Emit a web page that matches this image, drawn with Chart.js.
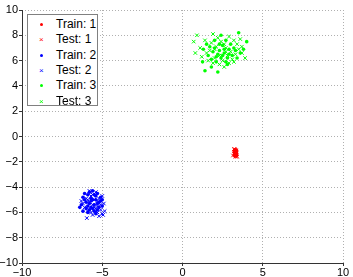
<!DOCTYPE html>
<html><head><meta charset="utf-8">
<script src="https://cdn.jsdelivr.net/npm/chart.js@4"></script>
<style>
html,body{margin:0;padding:0;background:#fff;}
#wrap{position:relative;width:353px;height:277px;}
#legend{position:absolute;left:27px;top:14px;width:71px;height:92px;border:1px solid #808080;background:#fff;font:12px "Liberation Sans",Arial,sans-serif;color:#000;box-sizing:border-box;}
.row{position:absolute;left:0;height:15px;width:70px;}
.lbl{position:absolute;left:28px;top:0;line-height:15px;white-space:nowrap;}
.dot{position:absolute;left:12px;top:6px;width:3px;height:3px;border-radius:2px;}
.crs{position:absolute;left:11px;top:0;line-height:15px;font-size:8px;}
</style></head>
<body><div id="wrap"><canvas id="c" width="353" height="277"></canvas><div id="legend"></div></div>
<script>
const legendLabels = ["Train: 1","Test: 1","Train: 2","Test: 2","Train: 3","Test: 3"];
const colors = ["#ff0000","#0000ff","#00ff00"];
const xTicks = [-10,-5,0,5,10];
const yTicks = [-10,-8,-6,-4,-2,0,2,4,6,8,10];

const train1 = [[3.25,-1.1],[3.3,-1.2],[3.35,-1.3],[3.28,-1.4],[3.32,-1.5],[3.38,-1.15],[3.22,-1.25],[3.3,-1.35],[3.36,-1.45],[3.26,-1.55],[3.34,-1.05],[3.24,-1.45],[3.31,-1.28],[3.37,-1.38],[3.29,-1.18]];
const test1 = [[3.2,-1.0],[3.4,-1.6],[3.15,-1.5],[3.33,-1.1],[3.27,-1.3],[3.38,-1.5],[3.22,-1.35],[3.35,-1.2],[3.3,-1.6],[3.25,-1.0]];
const train2 = [[-5.6,-4.3],[-5.9,-4.6],[-5.3,-4.5],[-6.1,-5.0],[-5.7,-4.9],[-5.4,-5.0],[-5.1,-4.8],[-6.3,-5.4],[-5.8,-5.3],[-5.5,-5.4],[-5.2,-5.2],[-6.0,-5.7],[-5.6,-5.7],[-5.3,-5.8],[-5.9,-6.0],[-5.0,-5.5],[-6.2,-4.8],[-5.7,-5.1],[-5.4,-4.7],[-5.8,-4.4],[-5.5,-5.9],[-6.0,-5.2],[-5.2,-5.6],[-5.6,-5.0],[-5.3,-5.3],[-6.4,-5.6],[-5.9,-5.5],[-5.1,-5.1],[-5.7,-5.6],[-5.4,-6.1],[-6.1,-4.5],[-5.5,-4.6],[-5.8,-5.8],[-5.0,-5.0],[-6.2,-5.9]];
const test2 = [[-5.96,-6.45],[-5.6,-6.2],[-5.1,-5.4],[-4.85,-5.9],[-5.3,-6.0],[-5.0,-6.1],[-5.5,-5.6],[-5.8,-5.2],[-6.2,-5.3],[-5.4,-4.4],[-5.2,-4.9],[-5.7,-4.7],[-6.0,-4.9],[-5.9,-5.9],[-5.3,-5.5],[-5.6,-5.4],[-4.9,-5.3],[-5.1,-5.8],[-6.3,-5.1],[-5.5,-5.0],[-5.7,-6.0],[-5.4,-5.7],[-6.1,-5.6],[-5.0,-4.7],[-5.8,-4.3],[-5.2,-6.3],[-5.6,-4.6],[-5.9,-5.0],[-5.3,-5.1],[-4.95,-6.2]];
const train3 = [[3.5,8.2],[4.0,7.5],[1.4,5.2],[1.8,5.5],[2.2,5.1],[1.25,5.9],[2.4,8.0],[2.7,5.9],[2.0,7.0],[2.3,6.8],[2.6,6.6],[2.9,6.9],[3.1,6.4],[2.1,6.3],[1.7,7.1],[1.5,7.3],[2.5,7.2],[3.3,6.8],[2.8,6.2],[2.2,6.5],[3.6,6.6],[1.9,6.7],[2.4,6.2],[3.0,7.3],[2.7,7.6],[1.6,6.4],[3.4,6.2],[2.0,7.6],[2.6,6.9],[3.2,7.0],[2.3,7.3],[1.8,6.1],[2.9,6.5],[2.5,6.4],[3.8,6.9],[1.3,6.9],[2.1,5.9],[2.8,5.7]];
const test3 = [[0.7,7.5],[0.9,8.0],[1.9,8.1],[3.2,5.9],[3.7,6.6],[1.1,7.0],[1.5,6.6],[2.0,6.9],[2.3,6.4],[2.7,7.0],[3.0,6.7],[3.4,7.3],[1.8,7.4],[2.5,6.0],[2.9,7.9],[1.6,6.0],[2.2,7.8],[3.6,7.7],[3.9,6.2],[1.2,6.3],[2.6,5.5],[3.1,6.1],[2.0,6.2],[2.4,7.5],[2.8,6.4],[3.3,6.5],[1.7,6.8],[2.1,7.1],[3.5,6.9],[2.6,7.3],[1.4,7.6],[2.9,5.8],[3.7,7.1],[2.3,5.7],[1.9,5.8],[3.2,7.6],[2.7,6.7],[0.8,6.6]];

const toXY = a => a.map(p => ({x:p[0], y:p[1]}));
const trains = [train1, train2, train3];
const tests = [test1, test2, test3];
const datasets = [];
for (let i = 0; i < 3; i++) {
  datasets.push({label: legendLabels[2*i], data: toXY(trains[i]), pointStyle:'circle', pointRadius:1.8, pointBackgroundColor:colors[i], pointBorderColor:colors[i], pointBorderWidth:0, showLine:false});
  datasets.push({label: legendLabels[2*i+1], data: toXY(tests[i]), pointStyle:'crossRot', pointRadius:2.5, pointBorderColor:colors[i], pointBorderWidth:1, showLine:false});
}
const fmt = v => (v < 0 ? '\u2212' + Math.abs(v) : String(v));
const font = {family:'"Liberation Sans", Arial, sans-serif', size:11};

// solid axis lines on left and bottom (grid lines are dotted)
const axisLines = {
  id:'axisLines',
  afterDraw(chart) {
    const {ctx, scales:{x, y}} = chart;
    ctx.save();
    ctx.strokeStyle = '#333'; ctx.lineWidth = 1; ctx.setLineDash([]);
    const bx = Math.round(x.getPixelForValue(-10)) + 0.5;
    const by = Math.round(y.getPixelForValue(-10)) + 0.5;
    ctx.beginPath();
    ctx.moveTo(bx, y.getPixelForValue(10)); ctx.lineTo(bx, by);
    ctx.lineTo(x.getPixelForValue(10), by);
    ctx.stroke();
    ctx.restore();
  }
};

new Chart(document.getElementById('c'), {
  type:'scatter',
  data:{datasets},
  plugins:[axisLines],
  options:{
    responsive:false, animation:false,
    layout:{padding:{left:0,right:10,top:10,bottom:0}},
    plugins:{legend:{display:false}, tooltip:{enabled:false}},
    scales:{
      x:{type:'linear', min:-10, max:10,
        afterFit: s => { s.height = 14; },
        afterBuildTicks: s => { s.ticks = xTicks.map(v => ({value:v})); },
        ticks:{callback: fmt, color:'#000', font, padding:0, maxRotation:0},
        grid:{color:'#b0b0b0', tickLength:3, tickColor:'#333', tickBorderDash:[]},
        border:{display:false, dash:[1,2]}},
      y:{type:'linear', min:-10, max:10,
        afterFit: s => { s.width = 22; },
        afterBuildTicks: s => { s.ticks = yTicks.map(v => ({value:v})); },
        ticks:{callback: fmt, color:'#000', font, padding:1},
        grid:{color:'#b0b0b0', tickLength:3, tickColor:'#333', tickBorderDash:[]},
        border:{display:false, dash:[1,2]}}
    }
  }
});

const lg = document.getElementById('legend');
legendLabels.forEach((t, k) => {
  const r = document.createElement('div');
  r.className = 'row';
  r.style.top = (2 + k * 15.3) + 'px';
  const c = colors[Math.floor(k/2)];
  const m = document.createElement('span');
  if (k % 2 === 0) { m.className = 'dot'; m.style.background = c; }
  else { m.className = 'crs'; m.style.color = c; m.textContent = '\u00d7'; }
  const l = document.createElement('span');
  l.className = 'lbl'; l.textContent = t;
  r.appendChild(m); r.appendChild(l); lg.appendChild(r);
});
</script></body></html>
